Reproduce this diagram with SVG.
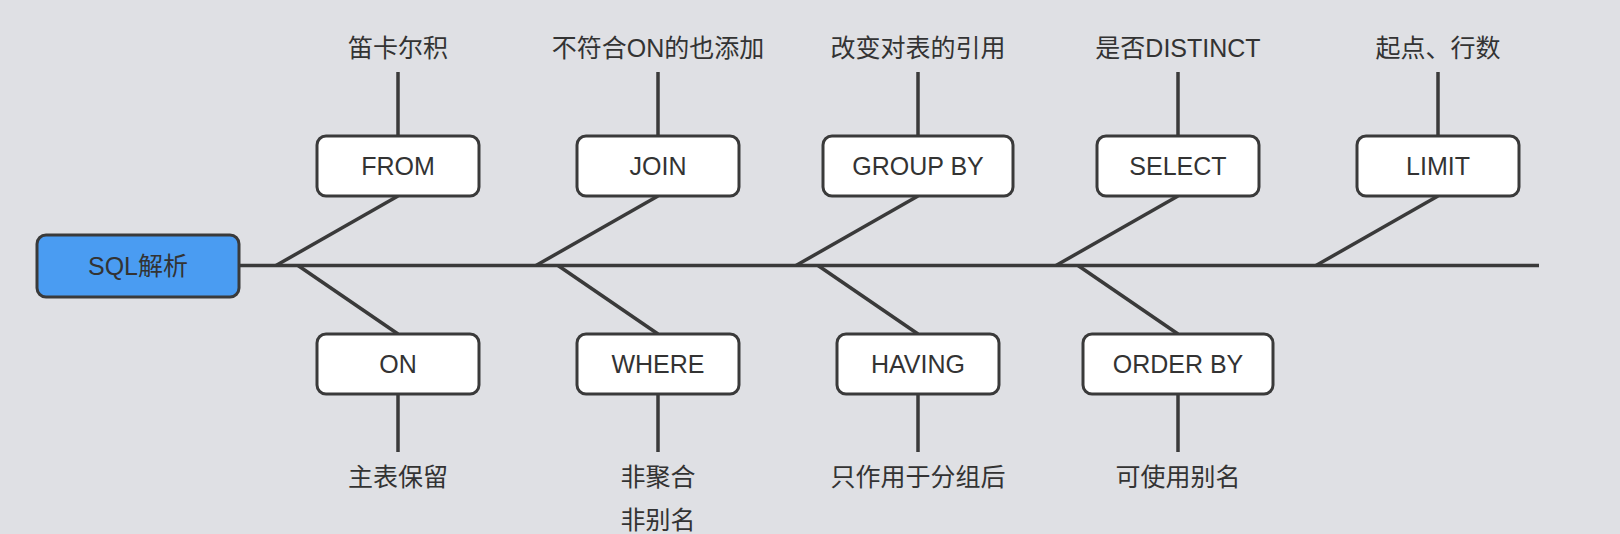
<svg xmlns="http://www.w3.org/2000/svg" width="1620" height="534" viewBox="0 0 1620 534">
  <style>
    .t { font-family: "Liberation Sans", "Noto Sans CJK SC", sans-serif; font-size: 25px; fill: #333333; text-anchor: middle; }
    .box { fill: #ffffff; stroke: #3a3a3a; stroke-width: 3; }
    .root { fill: #4a9cf2; stroke: #3a3a3a; stroke-width: 3; }
    .ln { stroke: #3a3a3a; stroke-width: 3.5; fill: none; stroke-linecap: butt; }
  </style>
  <rect x="0" y="0" width="1620" height="534" fill="#dfe0e4"/>

  <g id="connectors">
    <line class="ln" x1="239" y1="265.5" x2="1539" y2="265.5"/>
    <!-- upper diagonals -->
    <line class="ln" x1="398" y1="196" x2="276" y2="265.5"/>
    <line class="ln" x1="658" y1="196" x2="536" y2="265.5"/>
    <line class="ln" x1="918" y1="196" x2="796" y2="265.5"/>
    <line class="ln" x1="1178" y1="196" x2="1056" y2="265.5"/>
    <line class="ln" x1="1438" y1="196" x2="1316" y2="265.5"/>
    <!-- lower diagonals -->
    <line class="ln" x1="298" y1="265.5" x2="398" y2="334"/>
    <line class="ln" x1="558" y1="265.5" x2="658" y2="334"/>
    <line class="ln" x1="818" y1="265.5" x2="918" y2="334"/>
    <line class="ln" x1="1078" y1="265.5" x2="1178" y2="334"/>
    <!-- top verticals -->
    <line class="ln" x1="398" y1="72" x2="398" y2="136"/>
    <line class="ln" x1="658" y1="72" x2="658" y2="136"/>
    <line class="ln" x1="918" y1="72" x2="918" y2="136"/>
    <line class="ln" x1="1178" y1="72" x2="1178" y2="136"/>
    <line class="ln" x1="1438" y1="72" x2="1438" y2="136"/>
    <!-- bottom verticals -->
    <line class="ln" x1="398" y1="394" x2="398" y2="452"/>
    <line class="ln" x1="658" y1="394" x2="658" y2="452"/>
    <line class="ln" x1="918" y1="394" x2="918" y2="452"/>
    <line class="ln" x1="1178" y1="394" x2="1178" y2="452"/>
  </g>

  <g id="root">
    <rect class="root" x="37" y="235" width="202" height="62" rx="9"/>
    <text class="t" x="138" y="275">SQL解析</text>
  </g>

  <g id="from">
    <rect class="box" x="317" y="136" width="162" height="60" rx="9"/>
    <text class="t" x="398" y="175">FROM</text>
  </g>
  <g id="join">
    <rect class="box" x="577" y="136" width="162" height="60" rx="9"/>
    <text class="t" x="658" y="175">JOIN</text>
  </g>
  <g id="groupby">
    <rect class="box" x="823" y="136" width="190" height="60" rx="9"/>
    <text class="t" x="918" y="175">GROUP BY</text>
  </g>
  <g id="select">
    <rect class="box" x="1097" y="136" width="162" height="60" rx="9"/>
    <text class="t" x="1178" y="175">SELECT</text>
  </g>
  <g id="limit">
    <rect class="box" x="1357" y="136" width="162" height="60" rx="9"/>
    <text class="t" x="1438" y="175">LIMIT</text>
  </g>

  <g id="on">
    <rect class="box" x="317" y="334" width="162" height="60" rx="9"/>
    <text class="t" x="398" y="373">ON</text>
  </g>
  <g id="where">
    <rect class="box" x="577" y="334" width="162" height="60" rx="9"/>
    <text class="t" x="658" y="373">WHERE</text>
  </g>
  <g id="having">
    <rect class="box" x="837" y="334" width="162" height="60" rx="9"/>
    <text class="t" x="918" y="373">HAVING</text>
  </g>
  <g id="orderby">
    <rect class="box" x="1083" y="334" width="190" height="60" rx="9"/>
    <text class="t" x="1178" y="373">ORDER BY</text>
  </g>

  <g id="labels-top">
    <text class="t" x="398" y="57">笛卡尔积</text>
    <text class="t" x="658" y="57">不符合ON的也添加</text>
    <text class="t" x="918" y="57">改变对表的引用</text>
    <text class="t" x="1178" y="57">是否DISTINCT</text>
    <text class="t" x="1438" y="57">起点、行数</text>
  </g>
  <g id="labels-bottom">
    <text class="t" x="398" y="486">主表保留</text>
    <text class="t" x="658" y="486">非聚合</text>
    <text class="t" x="658" y="529">非别名</text>
    <text class="t" x="918" y="486">只作用于分组后</text>
    <text class="t" x="1178" y="486">可使用别名</text>
  </g>
</svg>
